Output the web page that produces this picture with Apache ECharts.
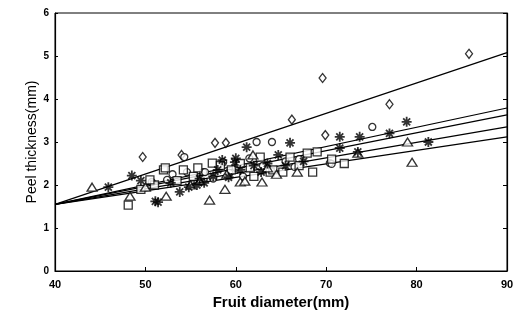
<!DOCTYPE html>
<html>
<head>
<meta charset="utf-8">
<script src="https://cdn.jsdelivr.net/npm/echarts@6/dist/echarts.min.js"></script>
<style>
  html, body { margin: 0; padding: 0; background: #fff; }
  #chart { width: 524px; height: 322px; }
</style>
</head>
<body>
<div id="chart"></div>
<script>
// fruit diameter (mm), peel thickness (mm) pairs per marker group
const diamondPts = [
  [49.7, 2.65], [54.0, 2.70], [57.7, 2.98], [58.9, 2.98], [66.2, 3.52],
  [69.6, 4.49], [69.9, 3.16], [77.0, 3.88], [85.8, 5.05]
];
const circlePts = [
  [50.7, 2.07], [52.4, 2.12], [54.3, 2.65], [54.6, 2.30], [56.4, 2.30],
  [56.6, 2.30], [58.6, 2.53], [60.0, 2.40], [62.3, 3.00], [64.0, 3.00],
  [63.0, 2.45], [65.5, 2.55], [70.4, 2.51], [70.6, 2.49], [75.1, 3.35],
  [67.0, 2.60], [60.8, 2.20], [57.5, 2.15], [53.0, 2.25], [59.3, 2.28],
  [61.5, 2.62], [66.5, 2.42]
];
const starPts = [
  [45.9, 1.95], [48.5, 2.22], [49.5, 2.10], [51.1, 1.62], [51.4, 1.60],
  [53.8, 1.84], [55.7, 2.00], [56.5, 2.05], [57.5, 2.20], [58.5, 2.58],
  [59.9, 2.53], [60.5, 2.35], [61.2, 2.88], [62.0, 2.45], [63.5, 2.50],
  [64.7, 2.70], [66.0, 2.98], [67.5, 2.55], [71.5, 3.12], [71.5, 2.86],
  [73.7, 3.12], [73.5, 2.77], [77.0, 3.20], [78.9, 3.47], [81.3, 3.00],
  [52.8, 2.05], [54.8, 1.95], [56.0, 2.15], [58.0, 2.35], [59.2, 2.18],
  [60.0, 2.62], [62.8, 2.30], [65.5, 2.45]
];
const squarePts = [
  [48.1, 1.53], [49.5, 1.90], [51.0, 2.00], [52.0, 2.35], [52.2, 2.40],
  [53.5, 2.10], [54.2, 2.35], [55.3, 2.20], [57.4, 2.51], [58.3, 2.45],
  [59.5, 2.35], [61.6, 2.40], [62.7, 2.65], [63.8, 2.30], [64.1, 2.35],
  [65.2, 2.30], [66.0, 2.65], [67.9, 2.74], [69.0, 2.77], [70.6, 2.60],
  [68.5, 2.30], [72.0, 2.50], [50.5, 2.12], [55.8, 2.40], [60.5, 2.50],
  [62.0, 2.20], [67.0, 2.45]
];
const trianglePts = [
  [44.1, 1.95], [48.3, 1.74], [50.0, 1.95], [52.3, 1.74], [55.0, 2.00],
  [57.1, 1.65], [58.8, 1.90], [60.5, 2.07], [61.0, 2.09], [61.9, 2.70],
  [62.9, 2.07], [64.5, 2.25], [66.8, 2.30], [73.5, 2.74], [79.0, 3.00],
  [79.5, 2.53], [56.0, 2.10], [59.0, 2.25], [63.5, 2.40]
];

// regression lines: value at x = 40 and x = 90
const lineEnds = [
  [1.55, 5.08],
  [1.55, 3.79],
  [1.55, 3.63],
  [1.55, 3.35],
  [1.55, 3.12]
];
const xTicks = [40, 50, 60, 70, 80, 90];
const yTicks = [0, 1, 2, 3, 4, 5, 6];

const ink = '#000';
const fontFamily = '"Liberation Sans", Arial, sans-serif';
const asterisk = 'path://M0,-5L0,5M-5,0L5,0M-3.5,-3.5L3.5,3.5M-3.5,3.5L3.5,-3.5';

const hollow = { color: '#fff', borderColor: ink, borderWidth: 1.3 };

const scatter = (data, symbol, size, style) => ({
  type: 'scatter',
  data,
  symbol,
  symbolSize: size,
  itemStyle: style || hollow,
  z: 3
});

const chart = echarts.init(document.getElementById('chart'), null, { renderer: 'canvas' });

chart.setOption({
  animation: false,
  backgroundColor: '#fff',
  grid: { left: 55, right: 17, top: 13, bottom: 51, show: true, borderColor: ink, borderWidth: 1 },
  xAxis: {
    type: 'value',
    min: xTicks[0],
    max: xTicks[xTicks.length - 1],
    interval: 10,
    name: 'Fruit diameter(mm)',
    nameLocation: 'middle',
    nameGap: 24,
    nameTextStyle: { color: ink, fontSize: 15, fontFamily, fontWeight: 'bold' },
    axisLine: { show: true, lineStyle: { color: ink, width: 1.2 } },
    axisTick: { show: true, inside: true, length: 4, lineStyle: { color: ink } },
    axisLabel: { color: ink, fontSize: 11, fontWeight: 'bold', fontFamily, margin: 8 },
    splitLine: { show: false }
  },
  yAxis: [
    {
      type: 'value',
      min: yTicks[0],
      max: yTicks[yTicks.length - 1],
      interval: 1,
      name: 'Peel thickness(mm)',
      nameLocation: 'middle',
      nameGap: 16,
      nameMoveOverlap: false,
      nameTextStyle: { color: ink, fontSize: 14, fontFamily },
      axisLine: { show: true, lineStyle: { color: ink, width: 1.2 } },
      axisTick: { show: true, inside: true, length: 3, lineStyle: { color: ink } },
      axisLabel: { color: ink, fontSize: 10, fontWeight: 'bold', fontFamily, margin: 6 },
      splitLine: { show: false }
    },
    {
      type: 'value',
      position: 'right',
      min: yTicks[0],
      max: yTicks[yTicks.length - 1],
      interval: 1,
      axisLine: { show: true, lineStyle: { color: ink, width: 1.2 } },
      axisTick: { show: true, inside: true, length: 4, lineStyle: { color: ink } },
      axisLabel: { show: false },
      splitLine: { show: false }
    }
  ],
  series: [
    ...lineEnds.map(([a, b]) => ({
      type: 'line',
      data: [[xTicks[0], a], [xTicks[xTicks.length - 1], b]],
      showSymbol: false,
      lineStyle: { color: ink, width: 1.2 },
      z: 2
    })),
    scatter(diamondPts, 'diamond', [7, 9]),
    scatter(circlePts, 'circle', 7),
    scatter(squarePts, 'rect', 8),
    scatter(trianglePts, 'triangle', [10, 8]),
    scatter(starPts, asterisk, 10, { color: 'none', borderColor: ink, borderWidth: 1.8 })
  ]
});
</script>
</body>
</html>
